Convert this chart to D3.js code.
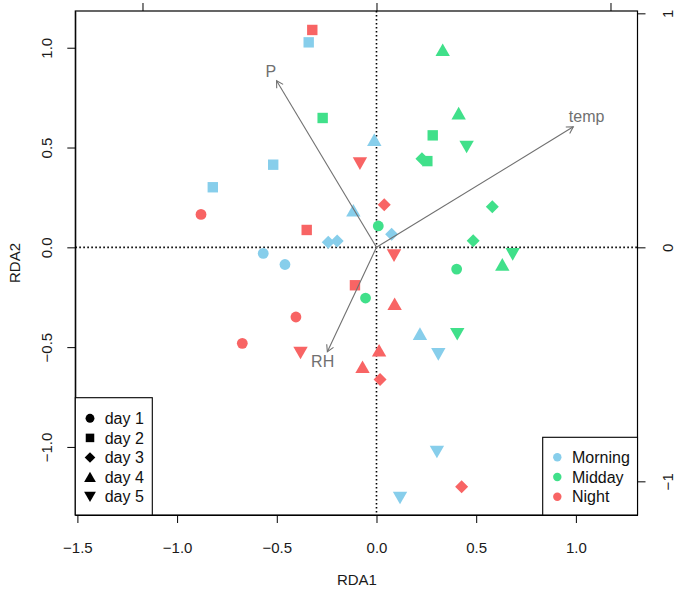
<!DOCTYPE html>
<html><head><meta charset="utf-8">
<script src="https://cdn.jsdelivr.net/npm/d3@7"></script>
<style>body{margin:0;background:#fff}</style>
</head><body>
<svg id="chart" width="675" height="591"></svg>
<script>
// ---------- data ----------
const times = ["Morning", "Midday", "Night"];
const timeColors = ["#87CEEB", "#40E08A", "#F86464"];
const days = ["day 1", "day 2", "day 3", "day 4", "day 5"];
const dayShapes = ["circle", "square", "diamond", "triangle", "triangleDown"];

const morningDay  = [1, 1, 2, 2, 2, 3, 3, 3, 4, 4, 4, 5, 5, 5];
const morningRDA1 = [-0.568, -0.459, -0.340, -0.518, -0.821, -0.242, -0.197, 0.076, -0.011, -0.116, 0.218, 0.310, 0.303, 0.118];
const morningRDA2 = [-0.030, -0.086, 1.027, 0.414, 0.301, 0.025, 0.032, 0.065, 0.538, 0.184, -0.434, -0.535, -1.024, -1.254];

const middayDay  = [1, 1, 1, 2, 2, 2, 3, 3, 3, 4, 4, 4, 5, 5, 5];
const middayRDA1 = [0.009, -0.055, 0.402, -0.270, 0.282, 0.255, 0.228, 0.581, 0.485, 0.332, 0.412, 0.631, 0.452, 0.683, 0.405];
const middayRDA2 = [0.107, -0.254, -0.109, 0.648, 0.561, 0.432, 0.444, 0.203, 0.033, 0.988, 0.671, -0.087, 0.504, -0.034, -0.434];

const nightDay  = [1, 1, 1, 2, 2, 2, 3, 3, 3, 4, 4, 4, 5, 5, 5];
const nightRDA1 = [-0.880, -0.404, -0.673, -0.322, -0.350, -0.108, 0.039, 0.018, 0.427, 0.091, 0.013, -0.070, -0.083, 0.088, -0.381];
const nightRDA2 = [0.165, -0.349, -0.481, 1.089, 0.087, -0.190, 0.213, -0.662, -1.199, -0.284, -0.517, -0.600, 0.421, -0.040, -0.528];

// environmental biplot arrows (secondary axis units)
const envNames = ["P", "temp", "RH"];
const envRDA1 = [-0.427, 0.841, -0.210];
const envRDA2 = [0.712, 0.515, -0.446];
const envLabelRDA1 = [-0.452, 0.898, -0.230];
const envLabelRDA2 = [0.750, 0.558, -0.486];

const xTicks = [-1.5, -1.0, -0.5, 0.0, 0.5, 1.0];
const yTicks = [-1.0, -0.5, 0.0, 0.5, 1.0];
const secTicks = [-1, 0, 1];

// ---------- layout ----------
const W = 675, H = 591;
const L = 75.3, R = 637.5, T = 11, B = 515;
const FONT = "'Liberation Sans', Arial, Helvetica, sans-serif";

const x = d3.scaleLinear().domain([-1.5105, 1.309]).range([L, R]);
const y = d3.scaleLinear().domain([-1.341, 1.184]).range([B, T]);
const x2 = d3.scaleLinear().domain([0, 1]).range([x(0), x(0) + 234]);
const y2 = d3.scaleLinear().domain([0, 1]).range([y(0), y(0) - 234]);

const svg = d3.select("#chart");
svg.append("rect").attr("width", W).attr("height", H).attr("fill", "#fff");

// shapes
function shapePath(name, s) {
  const p = d3.path();
  if (name === "circle") { const r = 5.4 * s; p.arc(0, 0, r, 0, 2 * Math.PI); }
  else if (name === "square") { const h = 5.2 * s; p.rect(-h, -h, 2 * h, 2 * h); }
  else if (name === "diamond") { const h = 6.5 * s; p.moveTo(0, -h); p.lineTo(h, 0); p.lineTo(0, h); p.lineTo(-h, 0); p.closePath(); }
  else if (name === "triangle") { p.moveTo(0, -6.6 * s); p.lineTo(7.2 * s, 6 * s); p.lineTo(-7.2 * s, 6 * s); p.closePath(); }
  else { p.moveTo(0, 6.6 * s); p.lineTo(7.2 * s, -6 * s); p.lineTo(-7.2 * s, -6 * s); p.closePath(); }
  return p.toString();
}

// dotted reference lines
const dot = svg.append("g").attr("stroke", "#000").attr("stroke-width", 1.6).attr("stroke-dasharray", "1.6,2.4");
dot.append("line").attr("x1", L).attr("x2", R).attr("y1", y(0)).attr("y2", y(0));
dot.append("line").attr("x1", x(0)).attr("x2", x(0)).attr("y1", T).attr("y2", B);

// points
const groups = [
  { t: 0, d: morningDay, xs: morningRDA1, ys: morningRDA2 },
  { t: 1, d: middayDay, xs: middayRDA1, ys: middayRDA2 },
  { t: 2, d: nightDay, xs: nightRDA1, ys: nightRDA2 }
];
const pts = [];
groups.forEach(g => g.xs.forEach((v, i) => pts.push({ x: v, y: g.ys[i], day: g.d[i], t: g.t })));
svg.append("g").selectAll("path").data(pts).join("path")
  .attr("d", d => shapePath(dayShapes[d.day - 1], 1))
  .attr("transform", d => `translate(${x(d.x)},${y(d.y)})`)
  .attr("fill", d => timeColors[d.t]);

// arrows
const arrowCol = "#707070";
const ag = svg.append("g");
envNames.forEach((n, i) => {
  const x0 = x2(0), y0 = y2(0), x1 = x2(envRDA1[i]), y1 = y2(envRDA2[i]);
  ag.append("line").attr("x1", x0).attr("y1", y0).attr("x2", x1).attr("y2", y1)
    .attr("stroke", arrowCol).attr("stroke-width", 1.1);
  const ang = Math.atan2(y1 - y0, x1 - x0), len = 7.5, a = Math.PI / 6;
  const hp = d3.path();
  hp.moveTo(x1 - len * Math.cos(ang - a), y1 - len * Math.sin(ang - a));
  hp.lineTo(x1, y1);
  hp.lineTo(x1 - len * Math.cos(ang + a), y1 - len * Math.sin(ang + a));
  ag.append("path").attr("d", hp.toString()).attr("fill", "none").attr("stroke", arrowCol).attr("stroke-width", 1.1);
  ag.append("text").attr("x", x2(envLabelRDA1[i])).attr("y", y2(envLabelRDA2[i])).attr("dy", "0.35em")
    .attr("text-anchor", "middle").attr("font-family", FONT).attr("font-size", 16).attr("fill", arrowCol).text(n);
});

// axes
function styleAxis(g) {
  g.selectAll("path.domain").attr("stroke", "#000");
  g.selectAll(".tick line").attr("stroke", "#000");
  g.selectAll("text").attr("font-family", FONT).attr("font-size", 15).attr("fill", "#1a1a1a");
}
const fmt = d3.format(".1f");
svg.append("g").attr("transform", `translate(0,${B})`)
  .call(d3.axisBottom(x).tickValues(xTicks).tickFormat(fmt).tickSize(8).tickSizeOuter(0).tickPadding(19))
  .call(styleAxis);
const ga = svg.append("g").attr("transform", `translate(${L},0)`)
  .call(d3.axisLeft(y).tickValues(yTicks).tickFormat(fmt).tickSize(8).tickSizeOuter(0))
  .call(styleAxis);
ga.selectAll(".tick text").attr("x", null).attr("dy", "0.35em").attr("text-anchor", "middle")
  .attr("transform", "translate(-28.3,0) rotate(-90)");
// top secondary axis: labels fall outside the picture in the reference, so ticks only
svg.append("g").attr("transform", `translate(0,${T})`)
  .call(d3.axisTop(x2).tickValues(secTicks).tickFormat("").tickSize(8).tickSizeOuter(0))
  .call(styleAxis).select("path.domain").remove();
const gr = svg.append("g").attr("transform", `translate(${R},0)`)
  .call(d3.axisRight(y2).tickValues(secTicks).tickFormat(d3.format("d")).tickSize(8).tickSizeOuter(0))
  .call(styleAxis);
gr.select("path.domain").remove();
gr.selectAll(".tick text").attr("x", null).attr("dy", "0.35em").attr("text-anchor", "middle")
  .attr("transform", "translate(30.5,0) rotate(-90)");

// box
svg.append("rect").attr("x", L).attr("y", T).attr("width", R - L).attr("height", B - T)
  .attr("fill", "none").attr("stroke", "#000").attr("stroke-width", 1.2);

// axis titles
svg.append("text").attr("x", (x(-1.5105) + x(1.309)) / 2 + 0.5).attr("y", 580).attr("dy", "0.35em")
  .attr("text-anchor", "middle").attr("font-family", FONT).attr("font-size", 15).attr("fill", "#1a1a1a").text("RDA1");
svg.append("text").attr("transform", `translate(15,${(T + B) / 2}) rotate(-90)`).attr("dy", "0.35em")
  .attr("text-anchor", "middle").attr("font-family", FONT).attr("font-size", 15).attr("fill", "#1a1a1a").text("RDA2");

// legend: days
const lg1 = svg.append("g");
lg1.append("rect").attr("x", L).attr("y", 397.7).attr("width", 152.3 - L).attr("height", B - 397.7)
  .attr("fill", "#fff").attr("stroke", "#000").attr("stroke-width", 1.1);
days.forEach((d, i) => {
  const yy = 418.3 + i * 19.6;
  lg1.append("path").attr("d", shapePath(dayShapes[i], 0.82)).attr("transform", `translate(90,${yy})`).attr("fill", "#000");
  lg1.append("text").attr("x", 104.7).attr("y", yy).attr("dy", "0.35em").attr("font-family", FONT)
    .attr("font-size", 16).attr("fill", "#111").text(d);
});

// legend: times
const lg2 = svg.append("g");
lg2.append("rect").attr("x", 542.7).attr("y", 437.3).attr("width", R - 542.7).attr("height", B - 437.3)
  .attr("fill", "#fff").attr("stroke", "#000").attr("stroke-width", 1.1);
times.forEach((t, i) => {
  const yy = 457.3 + i * 19.7;
  lg2.append("circle").attr("cx", 557.3).attr("cy", yy).attr("r", 4.2).attr("fill", timeColors[i]);
  lg2.append("text").attr("x", 572).attr("y", yy).attr("dy", "0.35em").attr("font-family", FONT)
    .attr("font-size", 16).attr("fill", "#111").text(t);
});
</script>
</body></html>
